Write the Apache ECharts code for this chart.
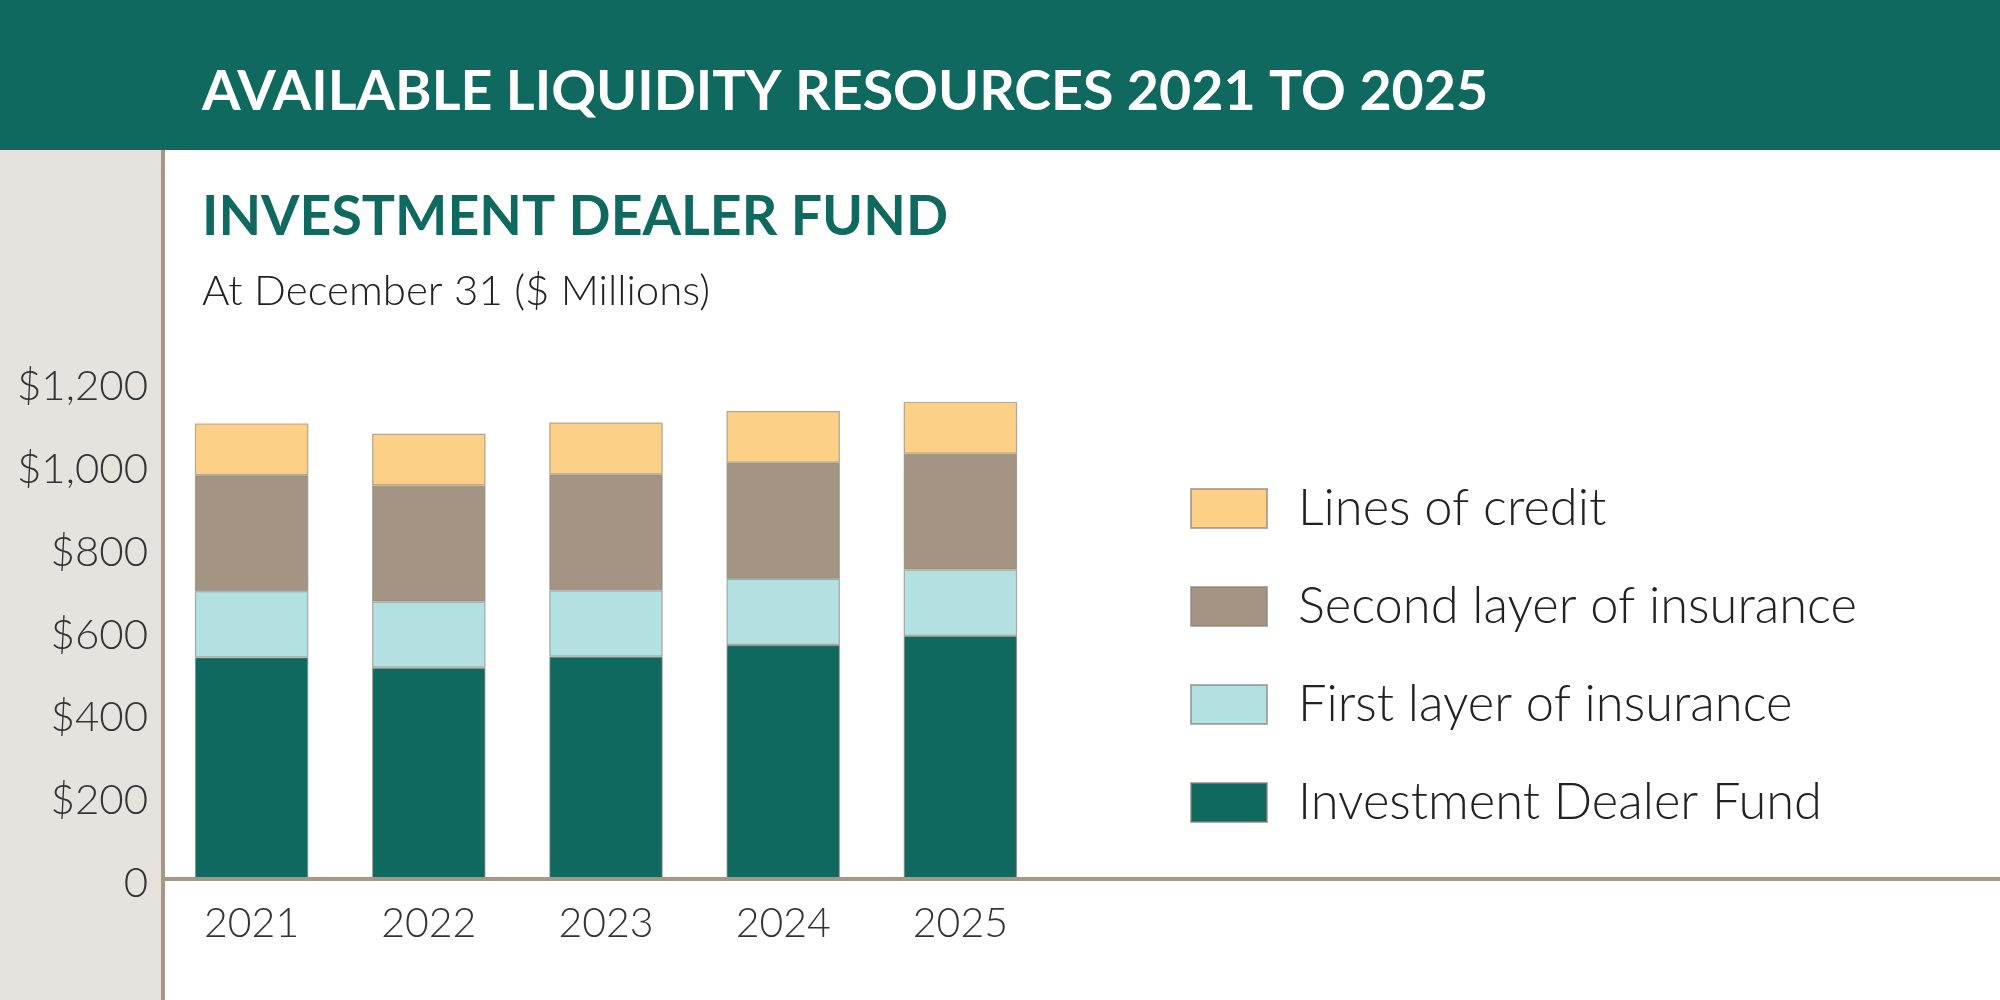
<!DOCTYPE html>
<html>
<head>
    <meta charset="utf-8" />
    <title>Available Liquidity Resources</title>
    <script src="https://cdn.jsdelivr.net/npm/echarts@6/dist/echarts.min.js"></script>
    <style>
        body { margin: 0; background: #fff; }
        #chart { width: 2000px; height: 1000px; }
    </style>
</head>
<body>
    <div id="chart"></div>
    <script type="text/javascript">
        // values, $ millions
        var years = ['2021', '2022', '2023', '2024', '2025'];
        var dealerFund = [535, 510, 537, 565, 587];
        var firstLayer = [160, 160, 160, 160, 160];
        var secondLayer = [280, 280, 280, 280, 280];
        var linesOfCredit = [125, 125, 125, 125, 125];
        var yTickLabels = ['0', '$200', '$400', '$600', '$800', '$1,000', '$1,200'];
        var legendOrder = ['Lines of credit', 'Second layer of insurance', 'First layer of insurance', 'Investment Dealer Fund'];

        var green = '#10695e';
        var taupe = '#a89786';
        var font = 'Lato';
        var gridBottom = 121;

        var chart = echarts.init(document.getElementById('chart'));

        function barSeries(name, data, color) {
            return {
                name: name,
                type: 'bar',
                stack: 'total',
                barCategoryGap: '36%',
                data: data,
                itemStyle: {
                    color: color,
                    borderColor: 'rgba(140,130,120,0.65)',
                    borderWidth: 1.2
                }
            };
        }

        var option = {
            animation: false,
            backgroundColor: '#ffffff',
            graphic: [
                { type: 'rect', z: 0, shape: { x: 0, y: 0, width: 2000, height: 150 }, style: { fill: green } },
                { type: 'rect', z: 0, shape: { x: 0, y: 150, width: 162, height: 850 }, style: { fill: '#e6e2dd' } },
                { type: 'line', z: 1, shape: { x1: 163, y1: 150, x2: 163, y2: 1000 }, style: { stroke: taupe, lineWidth: 4 } },
                { type: 'line', z: 10, shape: { x1: 161, y1: 1000 - gridBottom, x2: 2000, y2: 1000 - gridBottom }, style: { stroke: taupe, lineWidth: 4 } }
            ],
            title: [{
                text: 'AVAILABLE LIQUIDITY RESOURCES 2021 TO 2025',
                left: 202,
                top: 64,
                padding: 0,
                textStyle: { color: '#ffffff', fontFamily: font, fontWeight: 'bold', fontSize: 55.5, lineHeight: 56 }
            }, {
                text: 'INVESTMENT DEALER FUND',
                left: 202,
                top: 189,
                padding: 0,
                textStyle: { color: green, fontFamily: font, fontWeight: 'bold', fontSize: 55.4, lineHeight: 56 }
            }, {
                text: 'At December 31 ($ Millions)',
                left: 202,
                top: 270,
                padding: 0,
                textStyle: { color: '#222222', fontFamily: font, fontWeight: 300, fontSize: 42, lineHeight: 42 }
            }],
            legend: {
                orient: 'vertical',
                left: 1190,
                top: 483,
                padding: 0,
                data: legendOrder,
                icon: 'rect',
                itemWidth: 76,
                itemHeight: 39,
                itemGap: 47,
                selectedMode: false,
                textStyle: { color: '#222222', fontFamily: font, fontWeight: 300, fontSize: 50.6, padding: [0, 0, 0, 26] }
            },
            grid: {
                left: 163,
                width: 886,
                top: 382,
                bottom: gridBottom,
                containLabel: false
            },
            xAxis: {
                type: 'category',
                data: years,
                axisLine: { show: false },
                axisTick: { show: false },
                axisLabel: { color: '#333333', fontFamily: font, fontWeight: 300, fontSize: 41, margin: 24 }
            },
            yAxis: {
                type: 'value',
                min: 0,
                max: 1200,
                interval: 200,
                axisLine: { show: false },
                axisTick: { show: false },
                splitLine: { show: false },
                axisLabel: {
                    margin: 15,
                    formatter: function (v) { return '{t|' + yTickLabels[Math.round(v / 200)] + '}'; },
                    rich: {
                        t: {
                            color: '#333333',
                            fontFamily: font,
                            fontWeight: 300,
                            fontSize: 42,
                            padding: [9, 0, 0, 0]
                        }
                    }
                }
            },
            series: [
                barSeries('Investment Dealer Fund', dealerFund, green),
                barSeries('First layer of insurance', firstLayer, '#b3e0e0'),
                barSeries('Second layer of insurance', secondLayer, '#a39483'),
                barSeries('Lines of credit', linesOfCredit, '#fdd088')
            ]
        };

        chart.setOption(option);
    </script>
</body>
</html>
